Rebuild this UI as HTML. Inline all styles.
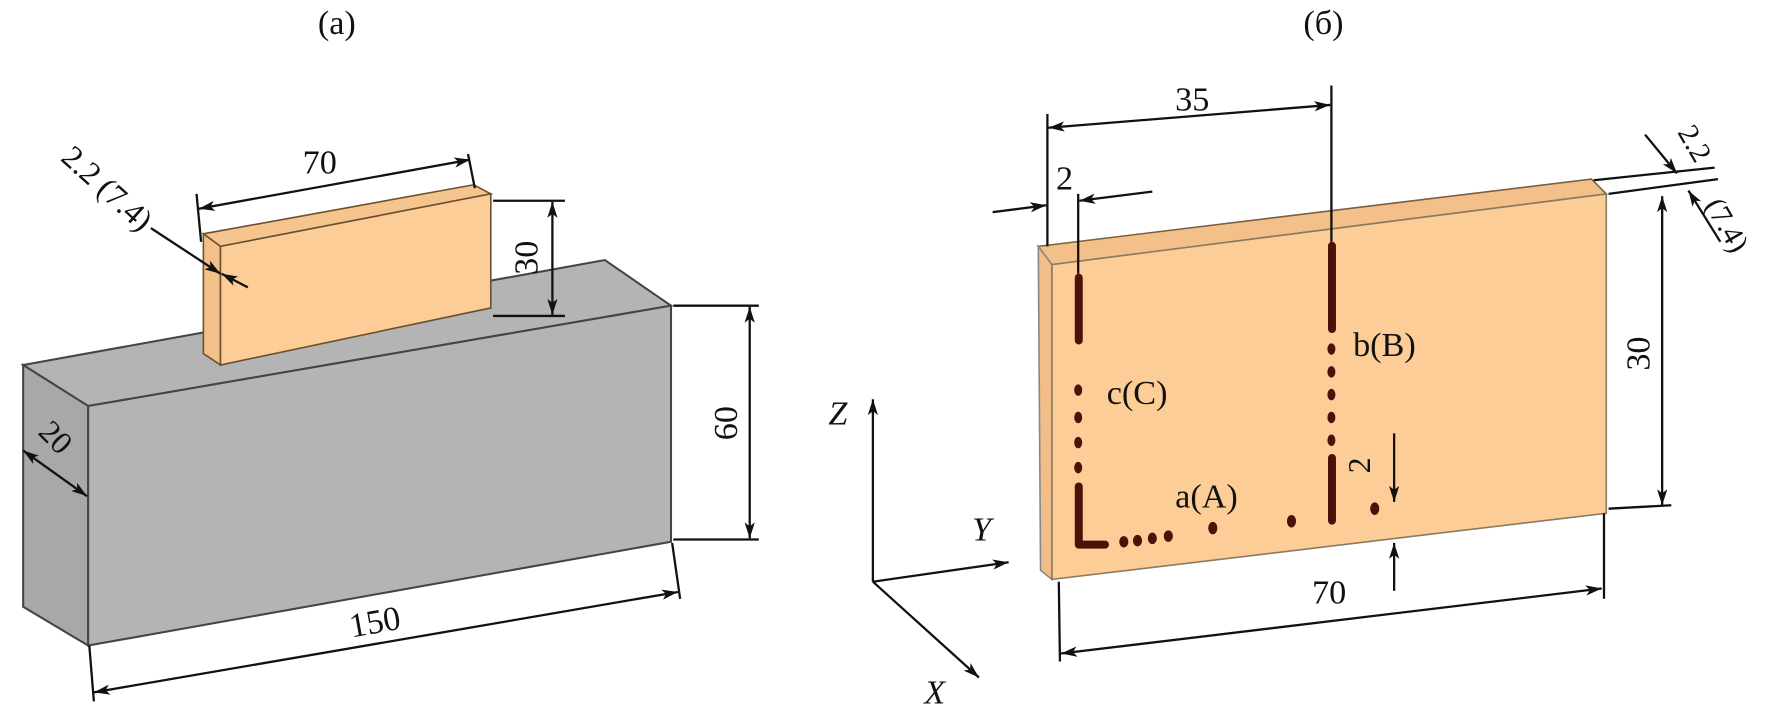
<!DOCTYPE html>
<html><head><meta charset="utf-8"><style>
html,body{margin:0;padding:0;background:#fff;}
svg{display:block;}
text{font-family:"Liberation Serif",serif;fill:#111;}
</style></head><body>
<svg width="1780" height="714" viewBox="0 0 1560 626" xmlns="http://www.w3.org/2000/svg">
<defs>
<marker id="a" viewBox="0 0 14 9" refX="14" refY="4.5" markerWidth="14" markerHeight="9" orient="auto-start-reverse" markerUnits="userSpaceOnUse">
<path d="M0,0 L14,4.5 L0,9 L3.5,4.5 z" fill="#111"/></marker>
</defs>
<g stroke="#111" stroke-width="2" fill="none">
<text x="295" y="30" font-size="30" stroke="none" text-anchor="middle">(a)</text>
<text x="1160" y="30" font-size="30" stroke="none" text-anchor="middle">(б)</text>

<!-- gray box -->
<polygon points="20,320 530,228 588,268 77,356" fill="#b4b4b4" stroke="#444" stroke-width="1.8"/>
<polygon points="20,320 77,356 77,566 20,532" fill="#a8a8a8" stroke="#444" stroke-width="1.8"/>
<polygon points="77,356 588,268 588,475 77,566" fill="#b4b4b4" stroke="#444" stroke-width="1.8"/>
<!-- small plate -->
<polygon points="178,205 415,162 430,170 193,216" fill="#f6c48d" stroke="#6a5030" stroke-width="1.4"/>
<polygon points="178,205 193,216 193,320 178,310" fill="#f4c08a" stroke="#6a5030" stroke-width="1.4"/>
<polygon points="193,216 430,170 430,270 193,320" fill="#fdcd97" stroke="#6a5030" stroke-width="1.4"/>

<!-- dims left -->
<line x1="172" y1="170" x2="176" y2="212"/>
<line x1="410" y1="135" x2="416" y2="165"/>
<line x1="174" y1="183" x2="412" y2="140" marker-start="url(#a)" marker-end="url(#a)"/>
<text x="280" y="152" font-size="30" stroke="none" text-anchor="middle">70</text>
<line x1="432" y1="176" x2="495" y2="176"/>
<line x1="432" y1="277" x2="495" y2="277"/>
<line x1="484" y1="177" x2="484" y2="276" marker-start="url(#a)" marker-end="url(#a)"/>
<text transform="translate(471,226) rotate(-90)" font-size="30" stroke="none" text-anchor="middle">30</text>
<line x1="590" y1="268" x2="665" y2="268"/>
<line x1="590" y1="473" x2="665" y2="473"/>
<line x1="657" y1="269" x2="657" y2="472" marker-start="url(#a)" marker-end="url(#a)"/>
<text transform="translate(646,371) rotate(-90)" font-size="30" stroke="none" text-anchor="middle">60</text>
<line x1="78" y1="566" x2="82" y2="615"/>
<line x1="589" y1="476" x2="596" y2="525"/>
<line x1="82" y1="607" x2="594" y2="519" marker-start="url(#a)" marker-end="url(#a)"/>
<text transform="translate(330,555) rotate(-10)" font-size="30" stroke="none" text-anchor="middle">150</text>
<line x1="20" y1="395" x2="76" y2="435" marker-start="url(#a)" marker-end="url(#a)"/>
<text transform="translate(42,390) rotate(45)" font-size="28" stroke="none" text-anchor="middle">20</text>
<line x1="132" y1="200" x2="193" y2="240" marker-end="url(#a)"/>
<line x1="217" y1="252" x2="194" y2="240" marker-end="url(#a)"/>
<text transform="translate(52,140) rotate(42)" font-size="28" stroke="none">2.2 (7.4)</text>

<!-- axes -->
<line x1="765" y1="510" x2="765" y2="350" marker-end="url(#a)"/>
<line x1="765" y1="510" x2="884" y2="493" marker-end="url(#a)"/>
<line x1="765" y1="510" x2="858" y2="594" marker-end="url(#a)"/>
<text x="726" y="372" font-size="30" font-style="italic" stroke="none">Z</text>
<text x="852" y="474" font-size="30" font-style="italic" stroke="none">Y</text>
<text x="810" y="617" font-size="30" font-style="italic" stroke="none">X</text>

<!-- right plate -->
<polygon points="910,216 1395,157 1408,170 922,232" fill="#f4c08a" stroke="#7a6040" stroke-width="1.4"/>
<polygon points="910,216 922,232 922,508 912,500" fill="#f1bd88" stroke="#888" stroke-width="1.4"/>
<polygon points="922,232 1408,170 1408,450 922,508" fill="#fdcd97" stroke="#8a7a60" stroke-width="1.4"/>

<!-- welding dots -->
<g stroke="none" fill="#4a1208">
<rect x="942" y="240" width="7" height="62" rx="3.5"/>
<rect x="942" y="423" width="7" height="57" rx="3.5"/>
<ellipse cx="945" cy="342" rx="3.5" ry="5"/><ellipse cx="945" cy="366" rx="3.5" ry="5"/>
<ellipse cx="945" cy="388" rx="3.5" ry="5"/><ellipse cx="945" cy="410" rx="3.5" ry="5"/>
<rect x="942" y="474" width="30" height="7" rx="3.5"/>
<ellipse cx="985" cy="475" rx="4" ry="5"/><ellipse cx="997" cy="474" rx="4" ry="5"/>
<ellipse cx="1010" cy="472" rx="4" ry="5"/><ellipse cx="1024" cy="470" rx="4" ry="5"/>
<ellipse cx="1063" cy="463" rx="4" ry="5.5"/><ellipse cx="1132" cy="457" rx="4" ry="5.5"/>
<rect x="1164" y="212" width="7" height="80" rx="3.5"/>
<ellipse cx="1167" cy="306" rx="3.5" ry="5"/><ellipse cx="1167" cy="326" rx="3.5" ry="5"/>
<ellipse cx="1167" cy="346" rx="3.5" ry="5"/><ellipse cx="1167" cy="366" rx="3.5" ry="5"/>
<ellipse cx="1167" cy="386" rx="3.5" ry="5"/>
<rect x="1164" y="398" width="7" height="62" rx="3.5"/>
<ellipse cx="1205" cy="446" rx="4" ry="5.5"/>
</g>
<text x="970" y="354" font-size="30" stroke="none">c(C)</text>
<text x="1186" y="312" font-size="30" stroke="none">b(B)</text>
<text x="1030" y="445" font-size="30" stroke="none">a(A)</text>

<!-- right dims -->
<line x1="918" y1="100" x2="918" y2="216"/>
<line x1="1167" y1="75" x2="1167" y2="212"/>
<line x1="919" y1="112" x2="1166" y2="92" marker-start="url(#a)" marker-end="url(#a)"/>
<text x="1045" y="97" font-size="30" stroke="none" text-anchor="middle">35</text>
<line x1="945" y1="170" x2="945" y2="240"/>
<line x1="870" y1="186" x2="917" y2="180" marker-end="url(#a)"/>
<line x1="1010" y1="168" x2="946" y2="176" marker-end="url(#a)"/>
<text x="933" y="166" font-size="30" stroke="none" text-anchor="middle">2</text>
<line x1="1397" y1="158" x2="1503" y2="147"/>
<line x1="1410" y1="170" x2="1506" y2="157"/>
<line x1="1442" y1="118" x2="1470" y2="152" marker-end="url(#a)"/>
<line x1="1508" y1="212" x2="1480" y2="167" marker-end="url(#a)"/>
<text transform="translate(1470,116) rotate(60)" font-size="26" stroke="none">2.2</text>
<text transform="translate(1494,180) rotate(60)" font-size="26" stroke="none">(7.4)</text>
<line x1="1410" y1="446" x2="1465" y2="443"/>
<line x1="1457" y1="172" x2="1457" y2="443" marker-start="url(#a)" marker-end="url(#a)"/>
<text transform="translate(1446,310) rotate(-90)" font-size="30" stroke="none" text-anchor="middle">30</text>
<line x1="928" y1="510" x2="929" y2="580"/>
<line x1="1406" y1="450" x2="1406" y2="525"/>
<line x1="930" y1="573" x2="1404" y2="516" marker-start="url(#a)" marker-end="url(#a)"/>
<text x="1165" y="529" font-size="30" stroke="none" text-anchor="middle">70</text>
<line x1="1222" y1="380" x2="1222" y2="440" marker-end="url(#a)"/>
<line x1="1222" y1="518" x2="1222" y2="476" marker-end="url(#a)"/>
<text transform="translate(1201,408) rotate(-90)" font-size="28" stroke="none" text-anchor="middle">2</text>
</g>
</svg>
</body></html>
